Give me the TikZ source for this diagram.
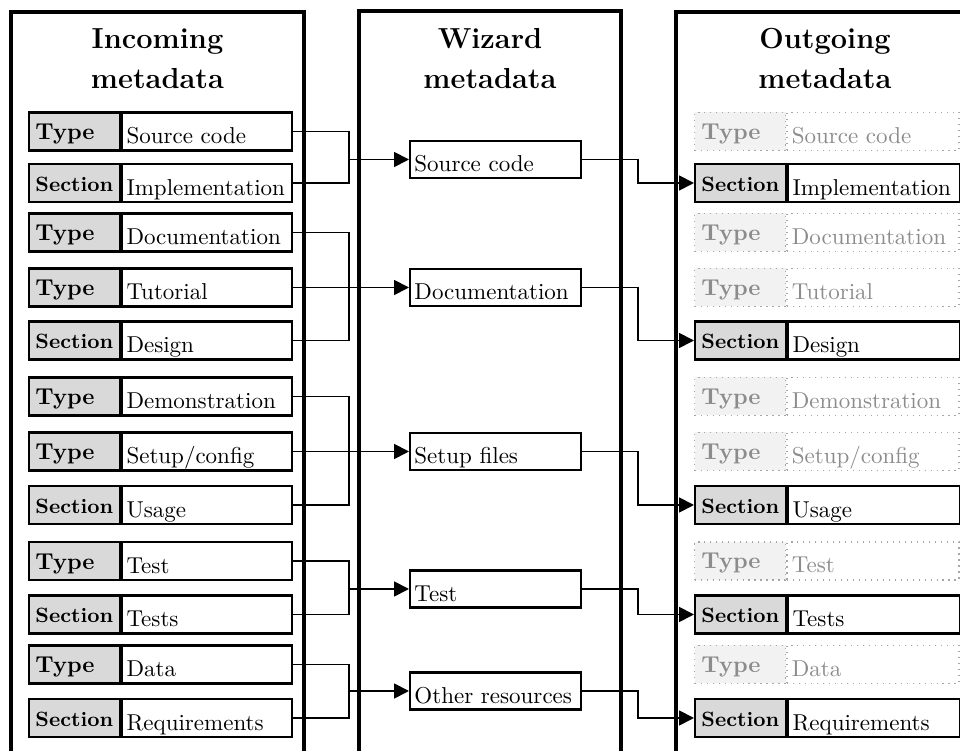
\documentclass[tikz,border=0pt]{standalone}
\usetikzlibrary{arrows.meta,calc}
% one drawing unit
\def\pxu{0.435pt}
\newcommand{\tagtype}{\textbf{Type}}
\newcommand{\tagsec}{{\fontsize{9}{11}\selectfont\bfseries Section}}
% #1 look (solid/ghost), #2 name, #3 left x, #4 centre y,
% #5 tag width, #6 value width, #7 tag, #8 value
\newcommand{\metarow}[8]{%
  \node[#1lbl, minimum width=#5*\pxu, anchor=west] (#2l) at (#3,#4) {};
  \node[#1val, minimum width=#6*\pxu, anchor=west] (#2) at (#2l.east) {};
  \node[#1txt, anchor=base west] (#2lt) at ($(#2l.south west)+(7,-12)$) {#7};
  \node[#1txt, anchor=base west] (#2vt) at ($(#2.south west)+(5,-8)$) {#8};
}
\begin{document}
\begin{tikzpicture}[x=0.435pt, y=-0.435pt,
  panel/.style={draw=black, line width=1.8pt},
  title/.style={anchor=north, inner sep=0pt, align=center,
    font=\fontsize{12.6}{17.5}\selectfont\bfseries},
  solidlbl/.style={draw=black, line width=0.9pt, fill=black!15,
    minimum height=38*\pxu, inner sep=0pt},
  solidval/.style={draw=black, line width=0.9pt, fill=white,
    minimum height=38*\pxu, inner sep=0pt},
  solidtxt/.style={inner sep=0pt, text=black},
  ghostlbl/.style={draw=black!35, dotted, line width=0.6pt, fill=black!5,
    minimum height=38*\pxu, inner sep=0pt},
  ghostval/.style={draw=black!35, dotted, line width=0.6pt, fill=white,
    minimum height=38*\pxu, inner sep=0pt},
  ghosttxt/.style={inner sep=0pt, text=black!45},
  midbox/.style={draw=black, line width=0.9pt, fill=white,
    minimum width=171*\pxu, minimum height=37*\pxu, inner sep=0pt, anchor=west},
  conn/.style={line width=0.8pt},
  arr/.style={conn, -{Triangle[length=6.5pt, width=6.5pt]}}
]
\path[use as bounding box] (0,0) rectangle (960,751);
\clip (0,0) rectangle (960,751);

% the three columns, open at the bottom
\draw[panel] (11,800) -- (11,12) -- (304,12) -- (304,800);
\draw[panel] (359,800) -- (359,11) -- (621,11) -- (621,800);
\draw[panel] (676,800) -- (676,12) -- (974,12) -- (974,800);

\node[title] (tin)  at (157.5,28) {Incoming\\metadata};
\node[title] (twiz) at (490,28)   {Wizard\\metadata};
\node[title] (tout) at (825,28)   {Outgoing\\metadata};

% incoming metadata
\metarow{solid}{in1}{28}{131.5}{91}{170}{\tagtype}{Source code}
\metarow{solid}{in2}{28}{183}{91}{170}{\tagsec}{Implementation}
\metarow{solid}{in3}{28}{232.5}{91}{170}{\tagtype}{Documentation}
\metarow{solid}{in4}{28}{287.5}{91}{170}{\tagtype}{Tutorial}
\metarow{solid}{in5}{28}{340.5}{91}{170}{\tagsec}{Design}
\metarow{solid}{in6}{28}{396.5}{91}{170}{\tagtype}{Demonstration}
\metarow{solid}{in7}{28}{451.5}{91}{170}{\tagtype}{Setup/config}
\metarow{solid}{in8}{28}{505}{91}{170}{\tagsec}{Usage}
\metarow{solid}{in9}{28}{561}{91}{170}{\tagtype}{Test}
\metarow{solid}{in10}{28}{614.5}{91}{170}{\tagsec}{Tests}
\metarow{solid}{in11}{28}{664.5}{91}{170}{\tagtype}{Data}
\metarow{solid}{in12}{28}{718}{91}{170}{\tagsec}{Requirements}

% outgoing metadata
\metarow{ghost}{o1}{694}{131.5}{91}{172}{\tagtype}{Source code}
\metarow{solid}{o2}{694}{183}{91}{172}{\tagsec}{Implementation}
\metarow{ghost}{o3}{694}{232.5}{91}{172}{\tagtype}{Documentation}
\metarow{ghost}{o4}{694}{287.5}{91}{172}{\tagtype}{Tutorial}
\metarow{solid}{o5}{694}{340.5}{91}{172}{\tagsec}{Design}
\metarow{ghost}{o6}{694}{396.5}{91}{172}{\tagtype}{Demonstration}
\metarow{ghost}{o7}{694}{451.5}{91}{172}{\tagtype}{Setup/config}
\metarow{solid}{o8}{694}{505}{91}{172}{\tagsec}{Usage}
\metarow{ghost}{o9}{694}{561}{91}{172}{\tagtype}{Test}
\metarow{solid}{o10}{694}{614.5}{91}{172}{\tagsec}{Tests}
\metarow{ghost}{o11}{694}{664.5}{91}{172}{\tagtype}{Data}
\metarow{solid}{o12}{694}{718}{91}{172}{\tagsec}{Requirements}

% wizard metadata
\node[midbox] (m1) at (409,159.5) {};
\node[midbox] (m2) at (409,287.5) {};
\node[midbox] (m3) at (409,451.5) {};
\node[midbox] (m4) at (409,589) {};
\node[midbox] (m5) at (409,691) {};
\node[solidtxt, anchor=base west] (m1t) at ($(m1.south west)+(5,-7.5)$) {Source code};
\node[solidtxt, anchor=base west] (m2t) at ($(m2.south west)+(5,-7.5)$) {Documentation};
\node[solidtxt, anchor=base west] (m3t) at ($(m3.south west)+(5,-7.5)$) {Setup files};
\node[solidtxt, anchor=base west] (m4t) at ($(m4.south west)+(5,-7.5)$) {Test};
\node[solidtxt, anchor=base west] (m5t) at ($(m5.south west)+(5,-7.5)$) {Other resources};

% incoming -> wizard
\path (m1.west) ++(-60,0) coordinate (j1);
\path (m2.west) ++(-60,0) coordinate (j2);
\path (m3.west) ++(-60,0) coordinate (j3);
\path (m4.west) ++(-60,0) coordinate (j4);
\path (m5.west) ++(-60,0) coordinate (j5);
\draw[conn] (in1.east) -| (j1) |- (in2.east);
\draw[arr] (j1) -- (m1.west);
\draw[conn] (in3.east) -| (j2) |- (in5.east);
\draw[arr] (in4.east) -- (m2.west);
\draw[conn] (in6.east) -| (j3) |- (in8.east);
\draw[arr] (in7.east) -- (m3.west);
\draw[conn] (in9.east) -| (j4) |- (in10.east);
\draw[arr] (j4) -- (m4.west);
\draw[conn] (in11.east) -| (j5) |- (in12.east);
\draw[arr] (j5) -- (m5.west);

% wizard -> outgoing
\draw[arr] (m1.east) -| ($(m1.east)!.5!(o2l.west)$) |- (o2l.west);
\draw[arr] (m2.east) -| ($(m2.east)!.5!(o5l.west)$) |- (o5l.west);
\draw[arr] (m3.east) -| ($(m3.east)!.5!(o8l.west)$) |- (o8l.west);
\draw[arr] (m4.east) -| ($(m4.east)!.5!(o10l.west)$) |- (o10l.west);
\draw[arr] (m5.east) -| ($(m5.east)!.5!(o12l.west)$) |- (o12l.west);
\end{tikzpicture}
\end{document}
